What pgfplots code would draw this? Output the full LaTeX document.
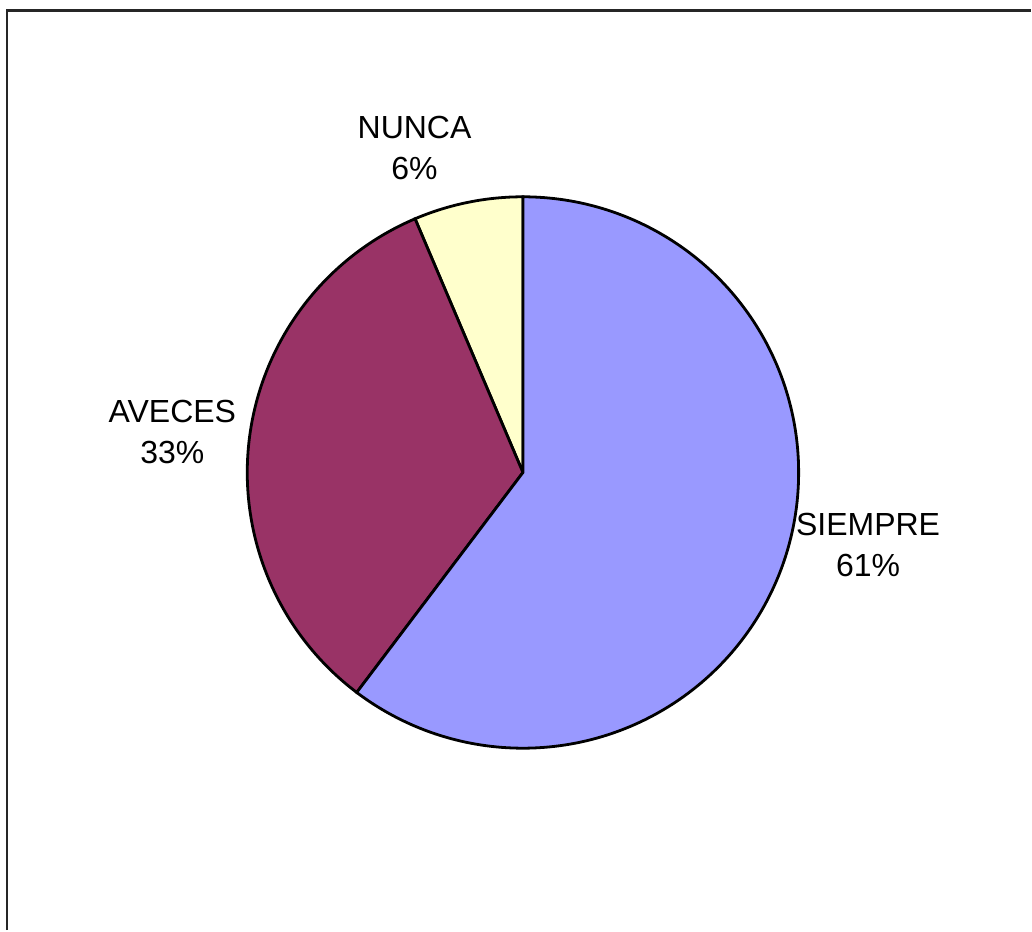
\documentclass[border=0pt]{standalone}
\usepackage{fontspec}
\setmainfont{Liberation Sans}
\usepackage{pgfplots}
\pgfplotsset{compat=1.18}
\definecolor{cSiempre}{HTML}{9999FF}
\definecolor{cAveces}{HTML}{993366}
\definecolor{cNunca}{HTML}{FFFFCC}
% shares of the pie (percent)
\def\vNunca{6.4}
\def\vAveces{33.3}
\def\vSiempre{60.3}
\pgfmathsetmacro{\aA}{90}
\pgfmathsetmacro{\aB}{90+3.6*\vNunca}
\pgfmathsetmacro{\aC}{\aB+3.6*\vAveces}
\pgfmathsetmacro{\aD}{\aC+3.6*\vSiempre}
\begin{document}
\begin{tikzpicture}
\begin{axis}[
  width=516pt, height=465.5pt, scale only axis,
  xmin=0, xmax=1032, ymin=0, ymax=931,
  hide axis, clip=false,
]
\path (axis cs:0,0) rectangle (axis cs:1032,931);
\draw[line width=1.1pt, black!85] (axis cs:7.3,0) -- (axis cs:7.3,920.5) -- (axis cs:1032,920.5);
\addplot[draw=black, line width=1.4pt, fill=cNunca, domain=\aA:\aB, samples=40, variable=\t]
  ({523.5+276*cos(t)}, {458+276*sin(t)}) -- (axis cs:523.5,458) -- cycle;
\addplot[draw=black, line width=1.4pt, fill=cAveces, domain=\aB:\aC, samples=120, variable=\t]
  ({523.5+276*cos(t)}, {458+276*sin(t)}) -- (axis cs:523.5,458) -- cycle;
\addplot[draw=black, line width=1.4pt, fill=cSiempre, domain=\aC:\aD, samples=200, variable=\t]
  ({523.5+276*cos(t)}, {458+276*sin(t)}) -- (axis cs:523.5,458) -- cycle;
\node[align=center, font=\fontsize{16}{20.5}\selectfont] at (axis cs:415,783) {NUNCA\\6\%};
\node[align=center, font=\fontsize{16}{20.5}\selectfont] at (axis cs:172.5,499) {AVECES\\33\%};
\node[align=center, font=\fontsize{16}{20.5}\selectfont] at (axis cs:869,385) {SIEMPRE\\61\%};
\end{axis}
\end{tikzpicture}
\end{document}
